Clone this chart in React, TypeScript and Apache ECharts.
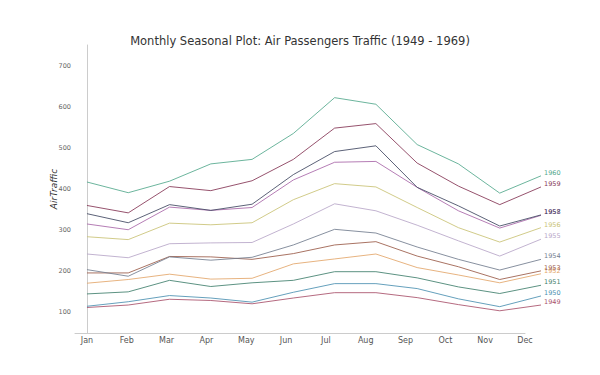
import React, { useEffect, useRef } from "react";
import * as echarts from "echarts";

const months = ["Jan", "Feb", "Mar", "Apr", "May", "Jun", "Jul", "Aug", "Sep", "Oct", "Nov", "Dec"];
const years = ["1949", "1950", "1951", "1952", "1953", "1954", "1955", "1956", "1957", "1958", "1959", "1960"];

const y1949 = [112, 118, 132, 129, 121, 135, 148, 148, 136, 119, 104, 118];
const y1950 = [115, 126, 141, 135, 125, 149, 170, 170, 158, 133, 114, 140];
const y1951 = [145, 150, 178, 163, 172, 178, 199, 199, 184, 162, 146, 166];
const y1952 = [171, 180, 193, 181, 183, 218, 230, 242, 209, 191, 172, 194];
const y1953 = [196, 196, 236, 235, 229, 243, 264, 272, 237, 211, 180, 201];
const y1954 = [204, 188, 235, 227, 234, 264, 302, 293, 259, 229, 203, 229];
const y1955 = [242, 233, 267, 269, 270, 315, 364, 347, 312, 274, 237, 278];
const y1956 = [284, 277, 317, 313, 318, 374, 413, 405, 355, 306, 271, 306];
const y1957 = [315, 301, 356, 348, 355, 422, 465, 467, 404, 347, 305, 336];
const y1958 = [340, 318, 362, 348, 363, 435, 491, 505, 404, 359, 310, 337];
const y1959 = [360, 342, 406, 396, 420, 472, 548, 559, 463, 407, 362, 405];
const y1960 = [417, 391, 419, 461, 472, 535, 622, 606, 508, 461, 390, 432];

const seriesValues = [y1949, y1950, y1951, y1952, y1953, y1954, y1955, y1956, y1957, y1958, y1959, y1960];
const colors = [
  "#a8506a", "#4a8fb0", "#3f7f6c", "#e3a66a", "#9a5a48", "#727c8e",
  "#b7a6c8", "#c9c274", "#a866a8", "#3f4660", "#843454", "#52a88c",
];
const yTicks = [100, 200, 300, 400, 500, 600, 700];

export default function App() {
  const ref = useRef<HTMLDivElement>(null);
  useEffect(() => {
    if (!ref.current) return;
    const chart = echarts.init(ref.current, null, { renderer: "svg" });
    chart.setOption({
      animation: false,
      backgroundColor: "#ffffff",
      textStyle: { fontFamily: "DejaVu Sans" },
      title: {
        text: "Monthly Seasonal Plot: Air Passengers Traffic (1949 - 1969)",
        left: "center",
        top: 30,
        textStyle: { fontSize: 11.5, fontWeight: "normal", color: "#333", fontFamily: "DejaVu Sans" },
      },
      grid: [
        { left: 75, right: 59, top: 45, bottom: 42 },
        { left: 75, right: 75, top: 45, bottom: 42 },
      ],
      xAxis: [
        {
          type: "value",
          gridIndex: 0,
          min: -0.29,
          max: 11,
          show: false,
        },
        {
          type: "value",
          gridIndex: 1,
          min: -0.3,
          max: 11,
          position: "bottom",
          axisLine: { show: true, lineStyle: { color: "#cccccc", width: 1 } },
          axisTick: { show: false },
          splitLine: { show: false },
          axisLabel: {
            customValues: months.map((_, i) => i),
            formatter: (v: number) => months[Math.round(v)] ?? "",
            color: "#555",
            fontSize: 8,
            margin: 3,
            fontFamily: "DejaVu Sans",
          },
        },
      ],
      yAxis: [
        {
          type: "value",
          gridIndex: 0,
          min: 50,
          max: 750,
          name: "AirTraffic",
          nameLocation: "middle",
          nameGap: 17,
          nameMoveOverlap: false,
          nameTextStyle: { fontSize: 9, fontStyle: "italic", color: "#333", fontFamily: "DejaVu Sans" },
          axisLine: { show: true, lineStyle: { color: "#cccccc", width: 1 } },
          axisTick: { show: false },
          splitLine: { show: false },
          axisLabel: {
            customValues: yTicks,
            color: "#666",
            fontSize: 6.5,
            margin: 4,
            fontFamily: "DejaVu Sans",
          },
        },
        {
          type: "value",
          gridIndex: 1,
          min: 50,
          max: 750,
          show: false,
        },
      ],
      series: seriesValues.map((vals, k) => ({
        type: "line",
        name: years[k],
        xAxisIndex: 0,
        yAxisIndex: 0,
        symbol: "none",
        data: vals.map((v, i) => [i, v]),
        lineStyle: { color: colors[k], width: 1, opacity: 0.85 },
        itemStyle: { color: colors[k] },
        endLabel: {
          show: true,
          formatter: years[k],
          color: colors[k],
          fontSize: 6.5,
          distance: 3,
          offset: [0, -3],
          fontFamily: "DejaVu Sans",
        },
      })),
    });
    return () => chart.dispose();
  }, []);
  return (
    <div
      ref={ref}
      style={{ position: "absolute", left: 0, top: 0, width: 600, height: 375 }}
    />
  );
}
